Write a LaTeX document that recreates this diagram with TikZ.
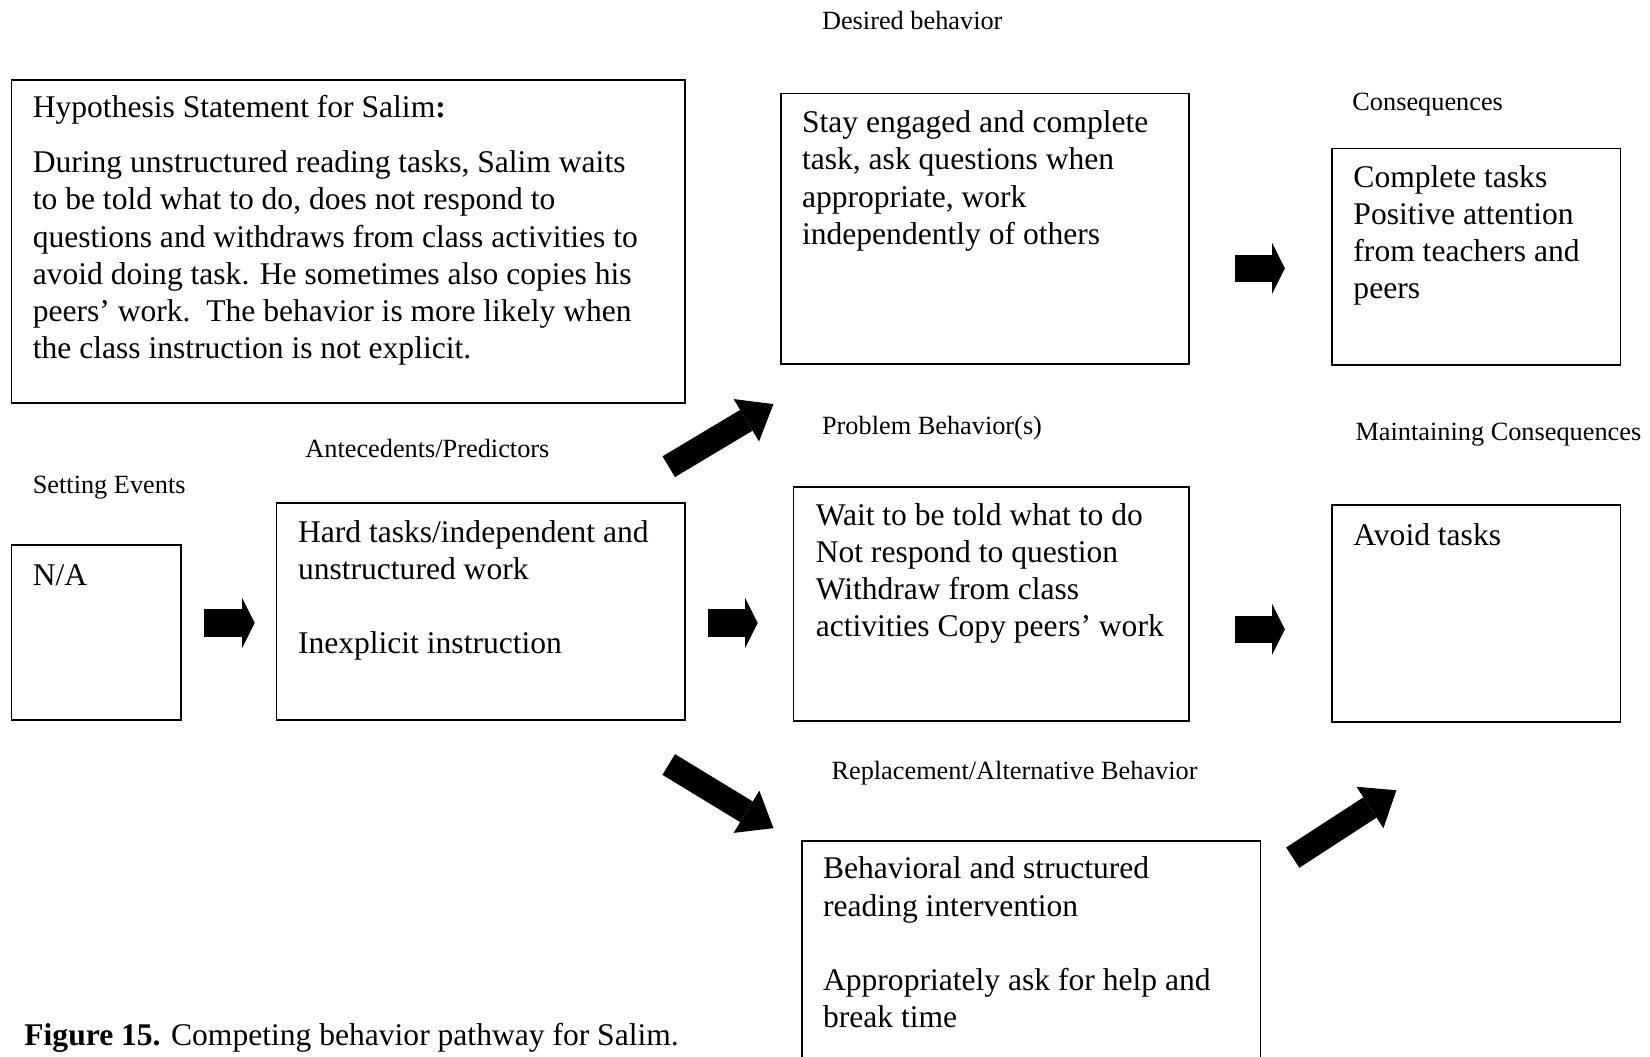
\documentclass[tikz,border=0pt]{standalone}
\usepackage{fontspec}
\setmainfont{Liberation Serif}
\usetikzlibrary{arrows.meta}
\begin{document}
\begin{tikzpicture}[x=1pt,y=-1pt,
  frame/.style={draw=black, line width=1.4pt, anchor=north west, inner sep=0pt, outer sep=0pt},
  body/.style={anchor=north west, inner sep=0pt, align=left, font=\fontsize{30}{35.3}\selectfont},
  line/.style={anchor=base west, inner sep=0pt, font=\fontsize{30}{35.3}\selectfont},
  tag/.style={anchor=base west, inner sep=0pt, font=\fontsize{25}{30}\selectfont},
  flat/.style={line width=26pt, -{Triangle[length=12pt,width=48pt,line width=0pt]}},
  slant/.style={line width=23pt, -{Triangle[length=30pt,width=47pt,line width=0pt]}},
]
\clip (0,0) rectangle (1568,1004);
\fill[white] (0,0) rectangle (1568,1004);

% boxes
\node[frame, minimum width=640pt, minimum height=307pt] (hyp)  at (11,76)   {};
\node[frame, minimum width=388pt, minimum height=257pt] (des)  at (742,89)  {};
\node[frame, minimum width=274pt, minimum height=206pt] (con)  at (1266,141) {};
\node[frame, minimum width=161pt, minimum height=166pt] (na)   at (11,518)  {};
\node[frame, minimum width=388pt, minimum height=206pt] (ant)  at (263,478) {};
\node[frame, minimum width=376pt, minimum height=222pt] (prob) at (754,463) {};
\node[frame, minimum width=274pt, minimum height=206pt] (mcon) at (1266,480) {};
\node[frame, minimum width=436pt, minimum height=260pt] (rep)  at (762,799) {};

% headings above the boxes
\node[tag] (tdes)  at (781,28)  {Desired behavior};
\node[tag] (tcon)  at (1285,105) {Consequences};
\node[tag] (tprob) at (781,413) {Problem Behavior(s)};
\node[tag] (tmcon) at (1288,419) {Maintaining Consequences};
\node[tag] (tant)  at (290,435) {Antecedents/Predictors};
\node[tag] (tset)  at (31,469)  {Setting Events};
\node[tag] (trep)  at (790,741) {Replacement/Alternative Behavior};

% box contents
\node[line] (hyphead) at (31,112) {Hypothesis Statement for Salim\textbf{:}};
\node[body] (hyptext) at (31,139.3) {\strut During unstructured reading tasks, Salim waits\\
to be told what to do, does not respond to\\
questions and withdraws from class activities to\\
avoid doing task. He sometimes also copies his\\
peers’ work.\ \ The behavior is more likely when\\
the class instruction is not explicit.};
\node[body] (destext) at (762,101.3) {\strut Stay engaged and complete\\
task, ask questions when\\
appropriate, work\\
independently of others};
\node[body] (context) at (1286,153.3) {\strut Complete tasks\\
Positive attention\\
from teachers and\\
peers};
\node[line] (natext) at (31,556) {N/A};
\node[body] (anttext) at (283,490.3) {\strut Hard tasks/independent and\\
unstructured work\\[35.3pt]
Inexplicit instruction};
\node[body] (probtext) at (775,474.3) {\strut Wait to be told what to do\\
Not respond to question\\
Withdraw from class\\
activities Copy peers’ work};
\node[line] (mcontext) at (1286,518) {Avoid tasks};
\node[body] (reptext) at (782,810.3) {\strut Behavioral and structured\\
reading intervention\\[35.3pt]
Appropriately ask for help and\\
break time};

% caption
\node[line] (cap) at (23,994) {\textbf{Figure 15.} Competing behavior pathway for Salim.};

% block arrows
\coordinate (a1s) at (194,592);  \coordinate (a1e) at (242,592);
\coordinate (a2s) at (673,592);  \coordinate (a2e) at (720,592);
\coordinate (a3s) at (1174,255); \coordinate (a3e) at (1221,255);
\coordinate (a4s) at (1174,598); \coordinate (a4e) at (1221,598);
\coordinate (a5s) at (635.5,443.5); \coordinate (a5e) at (735,384);
\coordinate (a6s) at (635.5,726.5); \coordinate (a6e) at (735,787);
\coordinate (a7s) at (1228.5,815);  \coordinate (a7e) at (1327,751);

\draw[flat] (a1s) -- (a1e);
\draw[flat] (a2s) -- (a2e);
\draw[flat] (a3s) -- (a3e);
\draw[flat] (a4s) -- (a4e);
\draw[slant] (a5s) -- (a5e);
\draw[slant] (a6s) -- (a6e);
\draw[slant] (a7s) -- (a7e);
\end{tikzpicture}
\end{document}
